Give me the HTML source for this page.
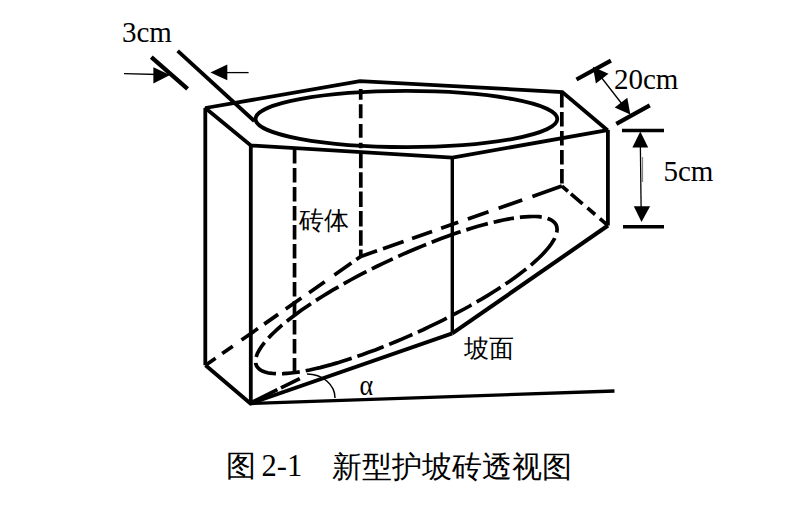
<!DOCTYPE html>
<html><head><meta charset="utf-8">
<style>
html,body{margin:0;padding:0;background:#fff;width:800px;height:515px;overflow:hidden;}
#c{position:relative;width:800px;height:515px;}
svg{position:absolute;left:0;top:0;}
.t{position:absolute;font-family:"Liberation Serif",serif;color:#000;white-space:pre;line-height:1;}
</style></head><body><div id="c">
<svg width="800" height="515" viewBox="0 0 800 515">
<g fill="none" stroke="#000" stroke-width="3.8" stroke-linecap="butt" stroke-linejoin="miter" stroke-miterlimit="2.2">
<!-- top face -->
<path d="M205.3 108 L360 81.2 L562.3 92 L607.5 130.2 L452.4 157.6 L250.8 145.5 Z"/>
<!-- top ellipse -->
<ellipse cx="406.4" cy="119" rx="150.9" ry="28.1"/>
<!-- solid verticals -->
<path d="M205.3 108 V365.3 M250.8 145.5 V403.5 M607.9 130 V225.5"/>
<path d="M452.3 157.6 V333.4" stroke-width="3.4"/>
<!-- bottom solid -->
<path d="M205.5 365.3 L250.5 403.5 L452.3 333.4"/>
<path d="M452.3 333.4 L608 225.5" stroke-width="4.1"/>
<!-- ground -->
<path d="M250.5 403.5 L614.5 391" stroke-width="3.3"/>
</g>
<g fill="none" stroke="#000" stroke-width="3.7" stroke-dasharray="13 6">
<path stroke-dasharray="10.7 4.5 14 5.8 13.6 5 5.5 100" d="M360.7 89.1 L360.7 152"/>
<path stroke-dasharray="15.5 3.86" d="M360.8 152.8 L360.8 256.4"/>
<path stroke-dasharray="14.5 4.5" d="M294.6 149 L294.5 372.2"/>
<path stroke-dasharray="14.5 4.5" d="M561.8 93 L561.9 186.1"/>
<path stroke-dasharray="12.3 8.1 12.9 10.7 20.0 7.7 17.0 9.3 19.1 9.4 19.1 11.8 20.8 6.0 5.5 0" d="M205.5 365.3 L360.8 256.4"/>
<path stroke-dasharray="17.2 6.3 21.8 9.0 21.2 9.6 18.1 10.2 21.9 10.7 25.0 10.8 31.3 0" d="M360.8 256.4 L561.9 186.1"/>
<path stroke-dasharray="8.0 3.9 15.3 6.4 10.1 6.3 10.1 0" d="M561.9 186.1 L607.7 225.3"/>
<path stroke-dasharray="2.4 6.0 16.8 6.0 18.9 6.0 29.8 6.0 26.3 6.0 25.9 6.0 23.2 6.0 30.3 6.0 30.8 6.0 22.4 6.0 20.7 6.0 21.9 6.0 18.7 6.0 36.3 6.0 25.6 6.0 28.0 6.0 22.0 6.0 32.1 6.0 25.2 6.0 28.0 6.0 47.7 6.0 17.9 6.0 22.7 0" d="M256.3 365.2 L255.8 363.6 L255.6 361.9 L255.6 360.0 L255.9 358.1 L256.5 356.0 L257.3 353.7 L258.5 351.4 L259.9 349.0 L261.5 346.5 L263.5 343.8 L265.7 341.1 L268.2 338.3 L270.9 335.4 L273.9 332.5 L277.2 329.4 L280.6 326.3 L284.4 323.2 L288.4 320.0 L292.6 316.7 L297.0 313.4 L301.6 310.1 L306.5 306.7 L311.5 303.3 L316.8 299.9 L322.2 296.5 L327.7 293.1 L333.4 289.7 L339.3 286.3 L345.3 282.9 L351.4 279.5 L357.6 276.2 L363.8 272.9 L370.2 269.7 L376.6 266.5 L383.1 263.4 L389.6 260.3 L396.1 257.3 L402.6 254.4 L409.2 251.5 L415.7 248.7 L422.1 246.1 L428.6 243.5 L434.9 241.0 L441.2 238.6 L447.5 236.3 L453.6 234.1 L459.6 232.1 L465.6 230.1 L471.4 228.3 L477.1 226.6 L482.6 225.0 L488.0 223.6 L493.3 222.3 L498.4 221.1 L503.3 220.0 L508.0 219.1 L512.6 218.3 L517.0 217.7 L521.1 217.2 L525.1 216.8 L528.9 216.6 L532.4 216.5 L535.8 216.5 L538.9 216.7 L541.8 217.1 L544.5 217.6 L546.9 218.2 L549.0 219.0 L551.0 219.9 L552.6 220.9 L554.0 222.1 L555.2 223.4 L556.1 224.9 L556.7 226.5 L557.0 228.2 L557.1 230.0 L556.8 232.0 L556.3 234.1 L555.5 236.3 L554.5 238.7 L553.1 241.1 L551.4 243.7 L549.5 246.4 L547.2 249.1 L544.7 252.0 L541.9 255.0 L538.8 258.0 L535.4 261.1 L531.8 264.3 L527.9 267.6 L523.7 270.9 L519.3 274.3 L514.6 277.7 L509.7 281.2 L504.5 284.7 L499.2 288.2 L493.6 291.8 L487.9 295.3 L482.0 298.9 L475.9 302.4 L469.7 306.0 L463.3 309.5 L456.8 312.9 L450.2 316.4 L443.5 319.8 L436.8 323.1 L429.9 326.4 L423.1 329.7 L416.2 332.8 L409.3 335.9 L402.4 338.9 L395.6 341.8 L388.7 344.6 L382.0 347.3 L375.3 349.9 L368.6 352.3 L362.1 354.7 L355.7 356.9 L349.4 359.0 L343.2 361.0 L337.2 362.9 L331.3 364.6 L325.6 366.1 L320.1 367.6 L314.8 368.8 L309.6 370.0 L304.7 371.0 L299.9 371.8 L295.4 372.5 L291.1 373.0 L287.0 373.4 L283.1 373.7 L279.5 373.8 L276.1 373.7 L273.0 373.5 L270.1 373.2 L267.5 372.7 L265.1 372.0 L263.0 371.3 L261.1 370.3 L259.5 369.3 L258.2 368.0 L257.1 366.7 Z"/>
<path stroke-dasharray="30 4 21 100" d="M250.5 403 L306 375.5"/>
</g>
<!-- 3cm marker -->
<g stroke="#000" fill="none">
<path d="M151.3 57.2 L187.6 88.9" stroke-width="4.3"/>
<path d="M177.7 50.8 L254.3 121" stroke-width="3.8"/>
<path d="M124 73.7 L158 74.5" stroke-width="1.3"/>
<path d="M222 72.6 L248.6 72.6" stroke-width="1.3"/>
<!-- 20cm -->
<path d="M576.5 79.5 L610.9 60.7" stroke-width="4.2"/>
<path d="M616.3 123.8 L649.8 105.4" stroke-width="4.2"/>
<path d="M601 77 L622 104" stroke-width="1.3"/>
<!-- 5cm -->
<path d="M622 130.5 H664 M623 226.7 H664" stroke-width="3.4"/>
<path d="M640.3 140 L641.2 215" stroke-width="1.3"/>
<path d="M642.6 157 L642.6 182" stroke-width="1" stroke="#777"/>
<!-- alpha arc -->
<path d="M307 374 A28 24 0 0 1 335 398" stroke-width="1.5"/>
</g>
<g fill="#000" stroke="none">
<path d="M170 75 L153.4 67.3 L153.4 83.4 Z"/>
<path d="M210.4 72.6 L227.3 64.4 L227.3 80.3 Z"/>
<path d="M592.9 66.8 L608.5 73.7 L595.9 83.5 Z"/>
<path d="M630.3 114.4 L627.3 97.7 L614.7 107.5 Z"/>
<path d="M640.3 131.6 L632.4 147.5 L648.2 147.5 Z"/>
<path d="M641.5 222 L633.8 206.2 L650.1 206.2 Z"/>
</g>
</svg>
<div class="t" style="left:122px;top:18px;font-size:29px">3cm</div>
<div class="t" style="left:614px;top:65px;font-size:29px">20cm</div>
<div class="t" style="left:663.5px;top:156.5px;font-size:29px">5cm</div>
<div class="t" style="left:359.5px;top:375px;font-size:26px;transform:scaleY(1.12);transform-origin:0 100%">α</div>
<div class="t" style="left:298.5px;top:208px;font-size:25px;font-weight:300">砖体</div>
<div class="t" style="left:464px;top:336px;font-size:25px;font-weight:300">坡面</div>
<div class="t" style="left:226px;top:451px;font-size:30px;font-weight:300">图</div>
<div class="t" style="left:261.5px;top:451px;font-size:30.5px;transform:scaleY(1.05);transform-origin:0 100%">2-1</div>
<div class="t" style="left:331.5px;top:451.5px;font-size:30px;font-weight:300">新型护坡砖透视图</div>
</div></body></html>
